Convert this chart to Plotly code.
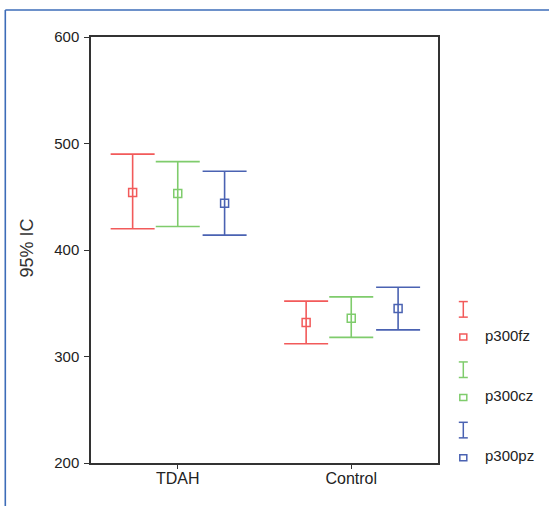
import plotly.graph_objects as go

# ---- data ----
groups = ["TDAH", "Control"]
series = ["p300fz", "p300cz", "p300pz"]
colors = ["#f25a5a", "#7fcc6c", "#4a62b2"]
means = {"p300fz": [454, 332], "p300cz": [453, 336], "p300pz": [444, 345]}
upper = {"p300fz": [490, 352], "p300cz": [483, 356], "p300pz": [474, 365]}
lower = {"p300fz": [420, 312], "p300cz": [422, 318], "p300pz": [414, 325]}
y_ticks = [200, 300, 400, 500, 600]

# ---- layout geometry (pixels) ----
W, H = 549, 506
L, R, T, B = 91, 438, 36.5, 463.5
pw, ph = R - L, B - T

def px(x):
    return (x - L) / pw

def py(y):
    return (B - y) / ph

offsets = [-0.26, 0.0, 0.27]
FONT = "Liberation Sans, Arial"

fig = go.Figure()
for i, (s, c) in enumerate(zip(series, colors)):
    xs = [g + offsets[i] for g in range(len(groups))]
    m = means[s]
    fig.add_trace(go.Scatter(
        x=xs, y=m, mode="markers", name=s, showlegend=False,
        marker=dict(symbol="square-open", size=8, color=c, line=dict(width=1.5, color=c)),
        error_y=dict(type="data", symmetric=False,
                     array=[u - v for u, v in zip(upper[s], m)],
                     arrayminus=[v - l for v, l in zip(m, lower[s])],
                     color=c, thickness=1.6, width=22),
    ))

shapes = []
annotations = []
# outer blue frame (top + left)
shapes.append(dict(type="line", xref="paper", yref="paper", x0=px(5.3), x1=px(560),
                   y0=py(9.5), y1=py(9.5), line=dict(color="#3d6cb8", width=1.6)))
shapes.append(dict(type="line", xref="paper", yref="paper", x0=px(5.3), x1=px(5.3),
                   y0=py(9.5), y1=py(520), line=dict(color="#3d6cb8", width=1.6)))

# manual legend
lx, top0, step = 463.3, 301.7, 60.5
for i, (s, c) in enumerate(zip(series, colors)):
    t = top0 + i * step
    b = t + 15.6
    shapes.append(dict(type="line", xref="paper", yref="paper", x0=px(lx), x1=px(lx),
                       y0=py(t), y1=py(b), line=dict(color=c, width=1.5)))
    for yy in (t, b):
        shapes.append(dict(type="line", xref="paper", yref="paper", x0=px(lx - 4.5),
                           x1=px(lx + 4.5), y0=py(yy), y1=py(yy), line=dict(color=c, width=1.5)))
    sq = t + 35.6
    shapes.append(dict(type="rect", xref="paper", yref="paper", x0=px(lx - 3.5),
                       x1=px(lx + 3.5), y0=py(sq - 3), y1=py(sq + 3),
                       line=dict(color=c, width=1.5), fillcolor="rgba(0,0,0,0)"))
    annotations.append(dict(xref="paper", yref="paper", x=px(483), y=py(sq - 2),
                            xanchor="left", yanchor="middle", showarrow=False, text=s,
                            font=dict(size=15, color="#222", family=FONT)))

annotations.append(dict(xref="paper", yref="paper", x=px(27.5), y=py(248),
                        xanchor="center", yanchor="middle", showarrow=False, text="95% IC",
                        textangle=-90, font=dict(size=18, color="#333", family=FONT)))

fig.update_layout(
    width=W, height=H,
    margin=dict(l=L, r=W - R, t=T, b=H - B, pad=0),
    paper_bgcolor="white", plot_bgcolor="white",
    font=dict(family=FONT, size=15, color="#222"),
    shapes=shapes, annotations=annotations,
    xaxis=dict(range=[-0.5, 1.5], tickvals=list(range(len(groups))), ticktext=groups,
               showgrid=False, zeroline=False, showline=True, mirror=True,
               linecolor="#333", linewidth=1.5, ticks="outside", ticklen=4,
               tickcolor="#333", tickwidth=1.2, tickfont=dict(size=16),
               ticklabelstandoff=-4),
    yaxis=dict(range=[200, 600], tickvals=y_ticks, showgrid=False, zeroline=False,
               showline=True, mirror=True, linecolor="#333", linewidth=1.5,
               ticks="outside", ticklen=5, tickcolor="#333", tickwidth=1.2,
               tickfont=dict(size=15), ticklabelstandoff=2),
)
fig.write_html("out.html", config={"displayModeBar": False},
               post_script="document.body.style.margin='0';")
